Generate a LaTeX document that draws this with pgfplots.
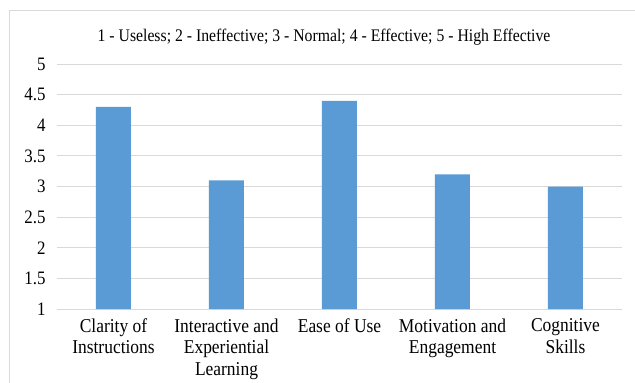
\documentclass[border=0pt]{standalone}
\usepackage{fontspec}
\setmainfont{Liberation Serif}[FakeStretch=0.89]
\usepackage{pgfplots}
\pgfplotsset{compat=1.18}
\definecolor{barblue}{HTML}{5B9BD5}
\definecolor{gridgray}{HTML}{D9D9D9}
\begin{document}
\begin{tikzpicture}[x=1pt,y=1pt]
\clip (0,0) rectangle (635,383);
\fill[white] (0,0) rectangle (635,383);
\draw[gridgray, line width=0.9pt] (9,-20) rectangle (660,372.5);
\node[anchor=base, font=\fontsize{17.7}{21}\selectfont] at (324,341.5) {1 - Useless; 2 - Ineffective; 3 - Normal; 4 - Effective; 5 - High Effective};
\begin{axis}[
  at={(57pt,74pt)}, anchor=south west,
  scale only axis, width=565pt, height=245pt,
  ymin=1, ymax=5, xmin=-0.5, xmax=4.5,
  ytick={1,1.5,2,2.5,3,3.5,4,4.5,5},
  ymajorgrids, grid style={gridgray, line width=0.9pt},
  axis line style={draw=none},
  tick style={draw=none},
  xtick=data,
  xticklabels={{Clarity of\\Instructions},{Interactive and\\Experiential\\Learning},{Ease of Use},{Motivation and\\Engagement},{Cognitive\\Skills}},
  x tick label style={align=center, font=\fontsize{19.6}{21.5}\selectfont, anchor=north, yshift=-6pt},
  y tick label style={font=\fontsize{19}{22}\selectfont, anchor=east, xshift=-8pt},
  /pgf/number format/assume math mode=true,
  yticklabel={\pgfmathprintnumber{\tick}},
  clip=false,
]
\addplot[ybar, bar width=35pt, fill=barblue, draw=none] coordinates {(0,4.3) (1,3.1) (2,4.4) (3,3.2) (4,3.0)};
\end{axis}
\end{tikzpicture}
\end{document}
